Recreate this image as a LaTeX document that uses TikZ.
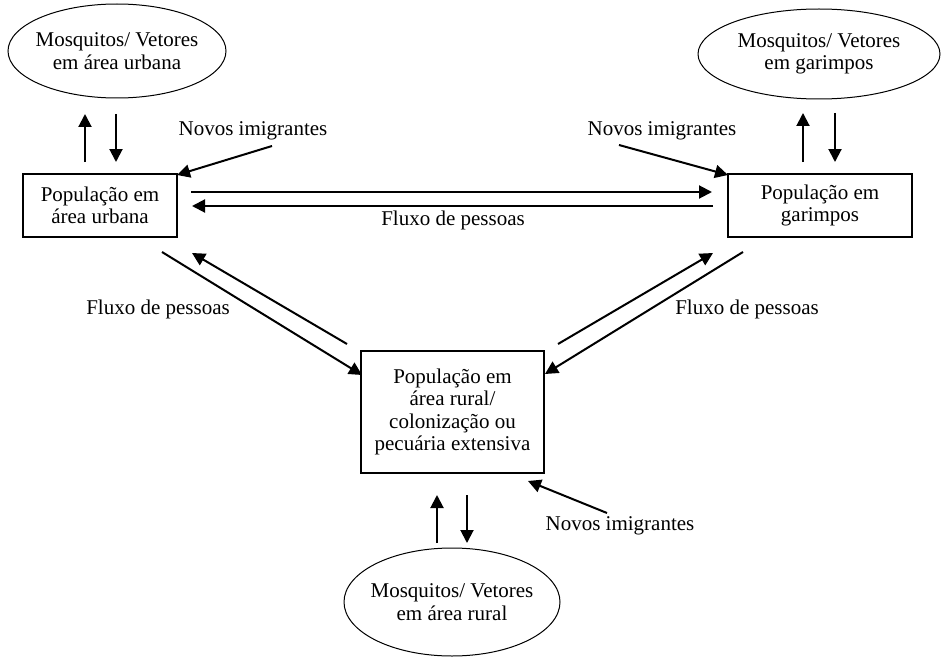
\documentclass[tikz,border=0pt]{standalone}
\usepackage{fontspec}
\setmainfont{Liberation Serif}
\usetikzlibrary{shapes.geometric,arrows.meta}
\begin{document}
\begin{tikzpicture}[x=1pt,y=-1pt,
  txt/.style={font=\fontsize{21}{22.5}\selectfont, align=center, inner sep=0pt},
  vec/.style={ellipse, draw, line width=1pt, inner sep=0pt},
  popbox/.style={rectangle, draw, line width=1.2pt, inner sep=0pt, txt},
  flow/.style={line width=2pt, -{Triangle[length=13pt,width=13pt]}}]
\useasboundingbox (0,0) rectangle (942,658);
% vectors
\node[vec, minimum width=218pt, minimum height=94pt] (vu) at (117,51) {};
\node[txt] (vut) at (vu.center) {Mosquitos/ Vetores\\em área urbana};
\node[vec, minimum width=242pt, minimum height=90pt] (vg) at (819,54) {};
\node[txt] (vgt) at (vg.center) {Mosquitos/ Vetores\\em garimpos};
\node[vec, minimum width=216pt, minimum height=108pt] (vr) at (452,602) {};
\node[txt] (vrt) at (vr.center) {Mosquitos/ Vetores\\em área rural};
% populations
\node[popbox, minimum width=154pt, minimum height=63pt] (pu) at (100,205.5) {População em\\área urbana};
\node[popbox, minimum width=184pt, minimum height=63pt] (pg) at (820,205.5) {População em\\garimpos};
\node[popbox, minimum width=183pt, minimum height=122pt] (pr) at (452.5,412) {População em\\área rural/\\colonização ou\\pecuária extensiva};
% labels
\node[txt] (nu) at (253,131) {Novos imigrantes};
\node[txt] (ng) at (662,131) {Novos imigrantes};
\node[txt] (nr) at (620,526) {Novos imigrantes};
\node[txt] (fh) at (453,220) {Fluxo de pessoas};
\node[txt] (fl) at (158,309) {Fluxo de pessoas};
\node[txt] (fr) at (747,309) {Fluxo de pessoas};
% connector end coordinates
\coordinate (u1a) at (85,162);  \coordinate (u1b) at (85,114);
\coordinate (u2a) at (116,114); \coordinate (u2b) at (116,162);
\coordinate (g1a) at (803,162); \coordinate (g1b) at (803,113);
\coordinate (g2a) at (835,113); \coordinate (g2b) at (835,162);
\coordinate (r1a) at (437,543); \coordinate (r1b) at (437,495);
\coordinate (r2a) at (467,495); \coordinate (r2b) at (467,543);
\coordinate (nus) at (272,146); \coordinate (nue) at (177,175);
\coordinate (ngs) at (619,145); \coordinate (nge) at (728,175);
\coordinate (nrs) at (607,513); \coordinate (nre) at (528,481);
\coordinate (h1a) at (191,192); \coordinate (h1b) at (712,192);
\coordinate (h2a) at (713,206); \coordinate (h2b) at (192,206);
\coordinate (l1a) at (162,252); \coordinate (l1b) at (362,375);
\coordinate (l2a) at (347,344); \coordinate (l2b) at (192,253);
\coordinate (d1a) at (558,344); \coordinate (d1b) at (713,253);
\coordinate (d2a) at (743,252); \coordinate (d2b) at (545,374);
% connectors
\draw[flow] (u1a) -- (u1b);
\draw[flow] (u2a) -- (u2b);
\draw[flow] (g1a) -- (g1b);
\draw[flow] (g2a) -- (g2b);
\draw[flow] (r1a) -- (r1b);
\draw[flow] (r2a) -- (r2b);
\draw[flow] (nus) -- (nue);
\draw[flow] (ngs) -- (nge);
\draw[flow] (nrs) -- (nre);
\draw[flow] (h1a) -- (h1b);
\draw[flow] (h2a) -- (h2b);
\draw[flow] (l1a) -- (l1b);
\draw[flow] (l2a) -- (l2b);
\draw[flow] (d1a) -- (d1b);
\draw[flow] (d2a) -- (d2b);
\end{tikzpicture}
\end{document}
